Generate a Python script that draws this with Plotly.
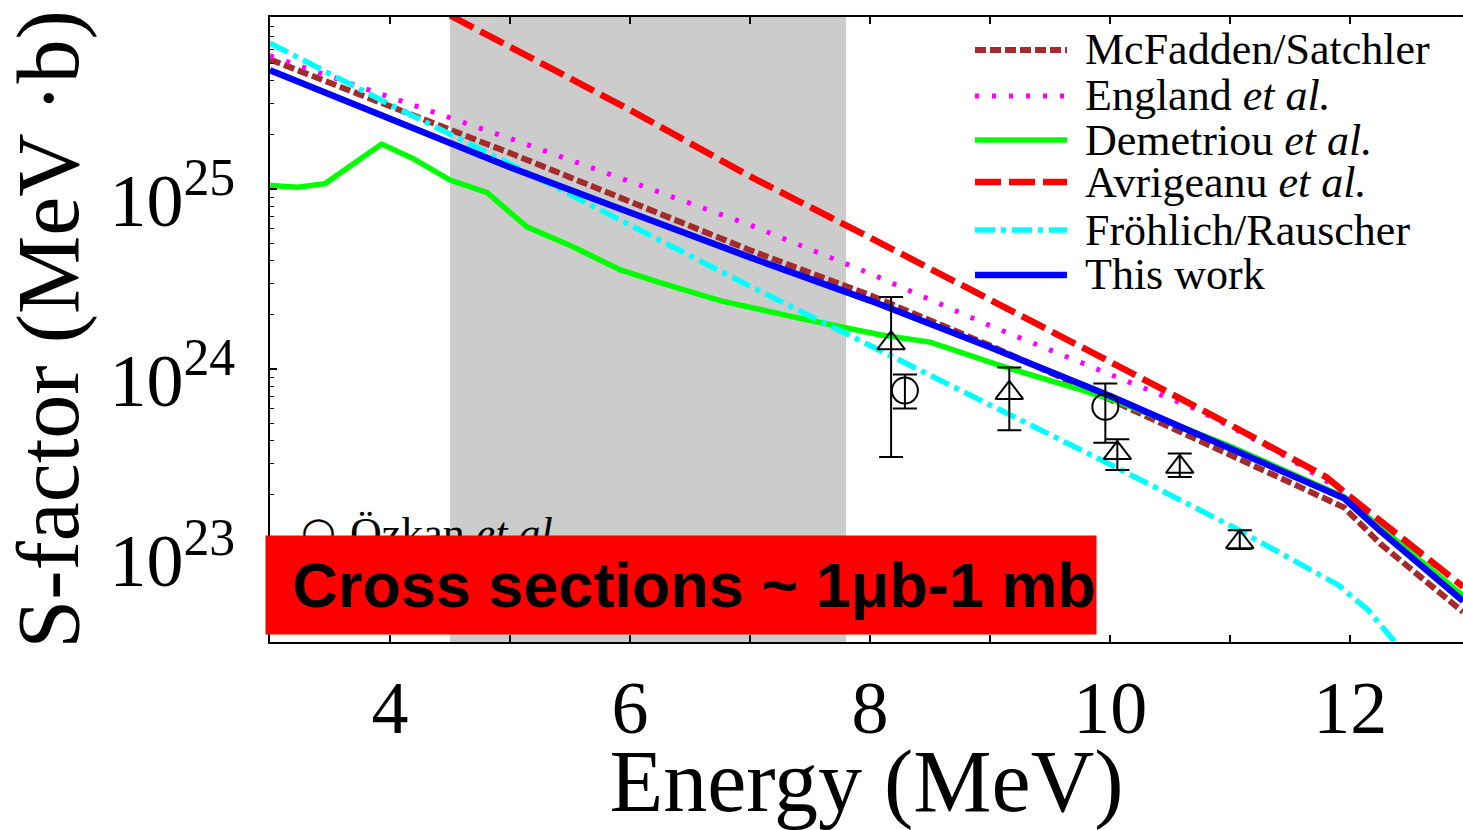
import plotly.graph_objects as go
import numpy as np

# ---------------- data ----------------
E_mcf = [3, 4, 5, 6, 7, 8, 9, 10, 11, 11.95, 12.25, 12.94]
S_mcf = [5.25e25, 2.88e25, 1.585e25, 8.51e24, 4.57e24, 2.57e24, 1.35e24, 6.76e23,
         3.31e23, 1.70e23, 1.07e23, 4.47e22]

E_eng = [3, 4, 5, 6, 7, 8, 9, 10, 10.7, 11, 11.42, 11.94, 12.25, 12.94]
S_eng = [5.50e25, 3.24e25, 1.91e25, 1.10e25, 6.31e24, 3.39e24, 1.74e24, 9.33e23,
         6.03e23, 4.79e23, 3.39e23, 2.09e23, 1.38e23, 6.17e22]

E_dem = [3.0, 3.23, 3.46, 3.93, 4.19, 4.5, 4.81, 5.14, 5.52, 5.92, 6.25, 6.75, 7.36,
         8.08, 8.5, 9.08, 9.78, 10.06, 11, 11.95, 12.25, 12.94]
S_dem = [1.047e25, 1.023e25, 1.072e25, 1.778e25, 1.479e25, 1.122e25, 9.55e24, 6.17e24,
         4.79e24, 3.55e24, 3.02e24, 2.40e24, 1.95e24, 1.55e24, 1.41e24, 1.047e24,
         7.59e23, 6.61e23, 3.72e23, 1.95e23, 1.32e23, 5.50e22]

E_avr = [4, 4.5, 5, 6, 7, 8, 9, 10, 11, 11.5, 11.8, 12.0, 12.3, 12.94]
S_avr = [1.38e26, 9.12e25, 6.17e25, 2.75e25, 1.175e25, 5.37e24, 2.45e24, 1.096e24,
         4.90e23, 3.24e23, 2.51e23, 1.95e23, 1.35e23, 6.17e22]

E_fro = [3, 4, 5, 6, 7, 8, 9, 10, 11, 11.5, 11.9, 12.15, 12.33, 12.6]
S_fro = [6.46e25, 2.95e25, 1.38e25, 6.31e24, 2.88e24, 1.35e24, 6.31e23, 2.95e23,
         1.35e23, 8.91e22, 6.31e22, 4.57e22, 3.24e22, 2.00e22]

E_this = [3, 4, 5, 6, 7, 8, 9, 10, 11, 11.95, 12.25, 12.94]
S_this = [4.57e25, 2.45e25, 1.32e25, 7.41e24, 4.17e24, 2.40e24, 1.32e24, 7.08e23,
          3.63e23, 1.91e23, 1.26e23, 5.13e22]

# experimental points
E_ozkan = [8.29, 9.96]
S_ozkan = [7.59e23, 6.17e23]
S_ozkan_hi = [9.33e23, 8.32e23]
S_ozkan_lo = [6.03e23, 3.89e23]

E_tri = [8.175, 9.16, 10.06, 10.58, 11.08]
S_tri = [1.39e24, 7.36e23, 3.41e23, 2.86e23, 1.09e23]
S_tri_hi = [2.51e24, 1.02e24, 4.07e23, 3.39e23, 1.27e23]
S_tri_lo = [3.24e23, 4.57e23, 2.75e23, 2.51e23, 1.00e23]

band_E = [4.5, 7.8]

x_tickvals = [4, 6, 8, 10, 12]
y_tickvals = [1e23, 1e24, 1e25]
y_ticktext = ["10<sup>23</sup>", "10<sup>24</sup>", "10<sup>25</sup>"]
y_minor = [m * 10.0 ** p for p in (22, 23, 24, 25) for m in range(2, 10)]

names = ["McFadden/Satchler", "England <i>et al.</i>", "Demetriou <i>et al.</i>",
         "Avrigeanu <i>et al.</i>", "Fröhlich/Rauscher", "This work"]

SERIF = "Liberation Serif, Times New Roman, serif"

# figure geometry (pixels)
W, H = 1463, 830
ML, MR, MT, MB = 270, 0, 17, 188
PW, PH = W - ML - MR, H - MT - MB


def px(x):
    return (x - ML) / PW


def py(y):
    return (H - MB - y) / PH


fig = go.Figure()

styles = [
    ("#a52a2a", 6, "11px,4px"),
    ("#ff00ff", 5, "4px,13px"),
    ("#00ff00", 5.5, "solid"),
    ("#ff0000", 6.5, "26px,8px"),
    ("#00ffff", 5.5, "20px,6px,5px,6px"),
    ("#0000ff", 6.5, "solid"),
]
series = [(E_mcf, S_mcf), (E_eng, S_eng), (E_dem, S_dem), (E_avr, S_avr),
          (E_fro, S_fro), (E_this, S_this)]
for (ex, sy), (col, w, dash), nm in zip(series, styles, names):
    fig.add_trace(go.Scatter(x=ex, y=sy, mode="lines", name=nm, showlegend=False,
                             line=dict(color=col, width=w, dash=dash)))

fig.add_trace(go.Scatter(
    x=E_ozkan, y=S_ozkan, mode="markers", showlegend=False, name="Özkan et al.",
    marker=dict(symbol="circle-open", size=26, color="black", line=dict(width=2)),
    error_y=dict(type="data", symmetric=False,
                 array=list(np.array(S_ozkan_hi) - np.array(S_ozkan)),
                 arrayminus=list(np.array(S_ozkan) - np.array(S_ozkan_lo)),
                 color="black", thickness=2, width=12)))

fig.add_trace(go.Scatter(
    x=E_tri, y=S_tri, mode="markers", showlegend=False, name="data",
    marker=dict(symbol="triangle-up-open", size=24, color="black", line=dict(width=2)),
    error_y=dict(type="data", symmetric=False,
                 array=list(np.array(S_tri_hi) - np.array(S_tri)),
                 arrayminus=list(np.array(S_tri) - np.array(S_tri_lo)),
                 color="black", thickness=2, width=12)))

fig.add_vrect(x0=band_E[0], x1=band_E[1], fillcolor="#cccccc", line_width=0,
              layer="below", opacity=1)

# legend (drawn by hand to match the reference's compact spacing)
leg_rows = [50, 96, 140, 182, 230, 275]
for (col, w, dash), nm, yr in zip(styles, names, leg_rows):
    fig.add_shape(type="line", xref="paper", yref="paper",
                  x0=px(975), x1=px(1067), y0=py(yr), y1=py(yr),
                  line=dict(color=col, width=w, dash=dash))
    fig.add_annotation(xref="paper", yref="paper", x=px(1083), y=py(yr),
                       xanchor="left", yanchor="middle", showarrow=False, text=nm,
                       font=dict(family=SERIF, size=44, color="black"))

fig.update_layout(
    width=W, height=H, autosize=False,
    margin=dict(l=ML, r=MR, t=MT, b=MB),
    paper_bgcolor="white", plot_bgcolor="white",
    font=dict(family=SERIF, color="black"),
    showlegend=False,
    xaxis=dict(range=[3, 12.94], tickvals=x_tickvals, showgrid=False, zeroline=False,
               automargin=False,
               showline=True, linecolor="black", linewidth=2, mirror="ticks",
               ticks="inside", ticklen=7, tickwidth=1.5, tickcolor="black",
               minor=dict(dtick=1, ticks="inside", ticklen=7, tickwidth=1.5,
                          tickcolor="black", showgrid=False),
               tickfont=dict(family=SERIF, size=74, color="black"),
               ticklabelstandoff=0,
               title=dict(text="Energy (MeV)", font=dict(family=SERIF, size=88, color="black"),
                          standoff=0)),
    yaxis=dict(type="log", range=[22.483, 25.956], tickvals=y_tickvals, ticktext=y_ticktext,
               automargin=False,
               showgrid=False, zeroline=False, showline=True, linecolor="black", linewidth=2,
               ticks="inside", ticklen=7, tickwidth=1.5, tickcolor="black",
               minor=dict(tickmode="array", tickvals=y_minor, ticks="inside", ticklen=4,
                          tickwidth=1.2, tickcolor="black", showgrid=False),
               tickfont=dict(family=SERIF, size=74, color="black"),
               ticklabelstandoff=18, ticklabelshift=11,
               title=dict(text="S-factor (MeV ·b)", font=dict(family=SERIF, size=88, color="black"),
                          standoff=14)),
)

# partially hidden data legend entry
fig.add_annotation(xref="paper", yref="paper", x=px(318), y=py(531),
                   xanchor="center", yanchor="middle", showarrow=False,
                   text="○", font=dict(family="DejaVu Sans", size=40, color="black"))
fig.add_annotation(xref="paper", yref="paper", x=px(348), y=py(533),
                   xanchor="left", yanchor="middle", showarrow=False,
                   text="Özkan <i>et al.</i>", font=dict(family=SERIF, size=44, color="black"))

# red overlay box
fig.add_annotation(xref="paper", yref="paper", x=px(681), y=py(585),
                   xanchor="center", yanchor="middle", showarrow=False,
                   width=830, height=98, bgcolor="#ff0000", borderpad=0, align="right",
                   text="<b>Cross sections ~ 1μb-1 mb</b>",
                   font=dict(family="Liberation Sans, Arial, sans-serif", size=63, color="black"))

fig.write_html("out.html")
